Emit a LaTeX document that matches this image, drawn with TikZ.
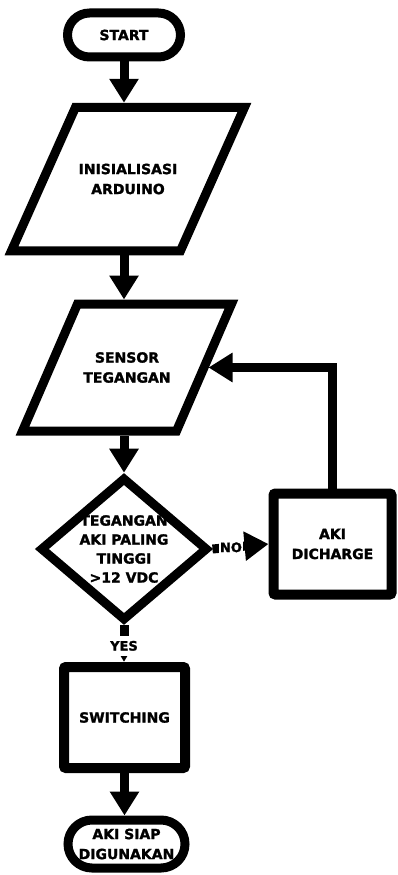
\documentclass[tikz,border=0pt]{standalone}
\usepackage{fontspec}
\setmainfont{DejaVu Sans}
\newfontfamily\heavy{DejaVu Sans Bold}[FakeBold=1.6]
\usetikzlibrary{arrows.meta,shapes.geometric,shapes.misc,calc}
\tikzset{
  base/.style={font=\heavy\fontsize{14}{20}\selectfont, align=center},
  term/.style={base, draw, line width=9pt, rounded rectangle, inner sep=0pt},
  iobox/.style={base, inner sep=0pt, outer sep=4.5pt},
  shapeline/.style={line width=9pt, line join=miter},
  decision/.style={base, font=\heavy\fontsize{14}{19}\selectfont, draw, diamond, aspect=1.17,
    inner sep=0pt, line width=9pt, minimum width=164pt, minimum height=140pt},
  process/.style={base, draw, line width=10pt, rounded corners=2pt, inner sep=0pt},
  arrow/.style={line width=9pt, line join=miter, -{Triangle[length=24pt,width=28pt]}},
  lbl/.style={font=\heavy\fontsize{13}{15}\selectfont, fill=white, inner xsep=1pt, inner ysep=1.5pt},
}
% name, half width, half height, half slant
\newcommand\iopath[4]{%
  \draw[shapeline] ($(#1.center)+(-#2+#4,-#3)$) -- ($(#1.center)+(#2+#4,-#3)$)
    -- ($(#1.center)+(#2-#4,#3)$) -- ($(#1.center)+(-#2-#4,#3)$) -- cycle;}
\begin{document}
\begin{tikzpicture}[x=1pt,y=-1pt]
\useasboundingbox (0,0) rectangle (398,875);

\node[term, minimum width=113pt, minimum height=44pt] (start) at (124,35) {START};

\node[iobox, minimum width=169pt, minimum height=143.5pt] (p1) at (128,179) {INISIALISASI\\ARDUINO};
\iopath{p1}{84.5}{71.75}{32}

\node[iobox, minimum width=154pt, minimum height=127pt] (p2) at (127,367.5) {SENSOR\\TEGANGAN};
\iopath{p2}{77}{63.5}{27.5}

\node[decision] (d) at (124,549) {TEGANGAN\\AKI PALING\\TINGGI\\>12 VDC};

\node[process, minimum width=118pt, minimum height=101pt] (dis) at (332.5,544) {AKI\\DICHARGE};

\node[process, minimum width=121pt, minimum height=101pt] (sw) at (124.5,717.5) {SWITCHING};

\node[term, minimum width=117pt, minimum height=48pt] (end) at (126.5,844) {AKI SIAP\\DIGUNAKAN};

\draw[arrow] (start.south) -- (start.south |- p1.north);
\draw[arrow] (p1.south -| start.south) -- (start.south |- p2.north);
\draw[arrow] (p2.south -| d.north) -- (d.north);
\draw[arrow] (d.east) -- node[lbl, pos=0.33] {NO} (dis.west);
\draw[arrow] (dis.north) |- (p2.east);
\draw[arrow, -{Triangle[length=22pt,width=24pt]}] (d.south) -- node[lbl, inner ysep=5pt, pos=0.56] {YES} (d.south |- sw.north);
\draw[arrow] (sw.south) -- (sw.south |- end.north);
\end{tikzpicture}
\end{document}
